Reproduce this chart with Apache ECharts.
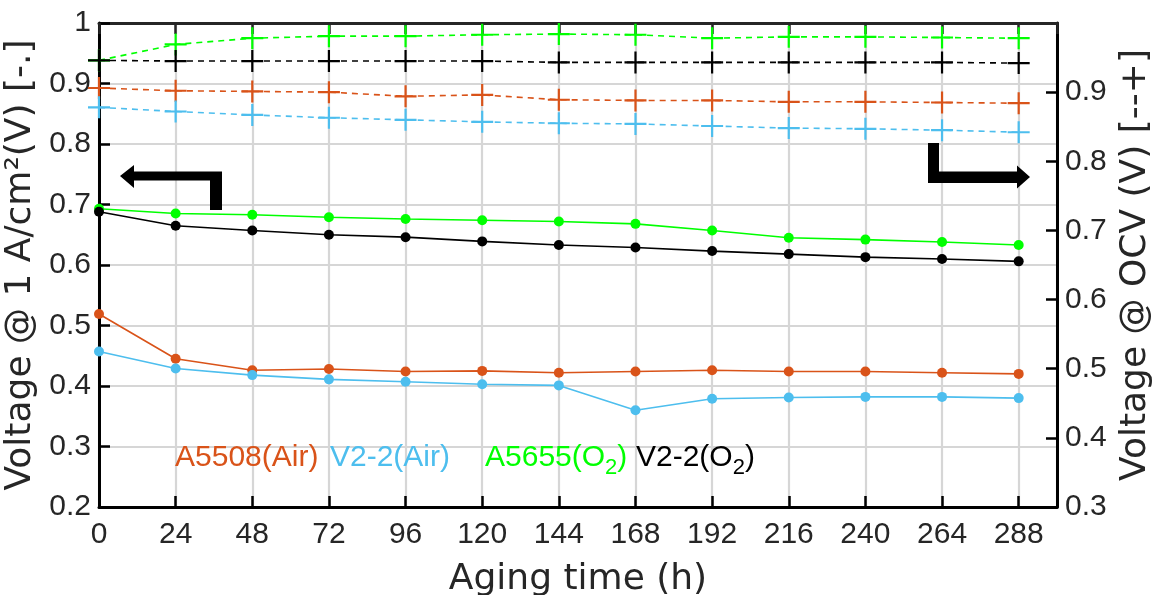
<!DOCTYPE html>
<html>
<head>
<meta charset="utf-8">
<script src="https://cdn.jsdelivr.net/npm/echarts@6/dist/echarts.min.js"></script>
<style>
html,body{margin:0;padding:0;background:#fff;overflow:hidden;}
#chart{width:1155px;height:595px;}
</style>
</head>
<body>
<div id="chart"></div>
<script>
// Aging time (h)
const hours = [0, 24, 48, 72, 96, 120, 144, 168, 192, 216, 240, 264, 288];

// Voltage @ 1 A/cm2 (left axis, solid with dots)
const a5508AirLoad = [0.519, 0.445, 0.426, 0.428, 0.424, 0.425, 0.422, 0.424, 0.426, 0.424, 0.424, 0.422, 0.420];
const v22AirLoad   = [0.457, 0.429, 0.418, 0.411, 0.407, 0.403, 0.401, 0.360, 0.379, 0.381, 0.382, 0.382, 0.380];
const a5655O2Load  = [0.693, 0.685, 0.683, 0.679, 0.676, 0.674, 0.672, 0.668, 0.657, 0.645, 0.642, 0.638, 0.633];
const v22O2Load    = [0.688, 0.665, 0.657, 0.650, 0.646, 0.639, 0.633, 0.629, 0.623, 0.618, 0.613, 0.610, 0.606];

// Voltage @ OCV (right axis, dashed with +)
const a5508AirOCV = [0.906, 0.902, 0.901, 0.900, 0.894, 0.896, 0.889, 0.888, 0.888, 0.886, 0.886, 0.885, 0.884];
const v22AirOCV   = [0.878, 0.872, 0.867, 0.863, 0.860, 0.857, 0.855, 0.854, 0.851, 0.848, 0.847, 0.845, 0.842];
const a5655O2OCV  = [0.946, 0.969, 0.978, 0.981, 0.981, 0.983, 0.984, 0.983, 0.978, 0.980, 0.980, 0.979, 0.978];
const v22O2OCV    = [0.946, 0.945, 0.945, 0.945, 0.945, 0.945, 0.943, 0.943, 0.943, 0.943, 0.943, 0.943, 0.942];

const seriesNames = ['A5508(Air)', 'V2-2(Air)', 'A5655(O2)', 'V2-2(O2)'];
const colors = ['#D95319', '#4DBEEE', '#00FF00', '#000000'];

const FONT = 'Liberation Sans, Arial, sans-serif';
const NAMEFONT = 'DejaVu Sans, sans-serif';
const TXT = '#262626';
const GRID = '#d6d6d6';
const PLUS = 'path://M-1,-10 L1,-10 L1,-1 L10,-1 L10,1 L1,1 L1,10 L-1,10 L-1,1 L-10,1 L-10,-1 L-1,-1 Z';

function pairs(ys) { return hours.map((h, i) => [h, ys[i]]); }

const loadData = [a5508AirLoad, v22AirLoad, a5655O2Load, v22O2Load];
const ocvData = [a5508AirOCV, v22AirOCV, a5655O2OCV, v22O2OCV];

const series = [];
ocvData.forEach((d, i) => {
  series.push({
    name: seriesNames[i] + ' OCV', type: 'line', xAxisIndex: 0, yAxisIndex: 1,
    data: pairs(d), symbol: PLUS, symbolSize: 22, showAllSymbol: true,
    lineStyle: { color: colors[i], width: 1.6, type: [6, 5] },
    itemStyle: { color: colors[i] }, animation: false, z: 3
  });
});
loadData.forEach((d, i) => {
  series.push({
    name: seriesNames[i], type: 'line', xAxisIndex: 0, yAxisIndex: 0,
    data: pairs(d), symbol: 'circle', symbolSize: 10, showAllSymbol: true,
    lineStyle: { color: colors[i], width: 1.6 },
    itemStyle: { color: colors[i] }, animation: false, z: 3
  });
});

const legendPos = [175, 330, 485, 636];
const legendTexts = legendPos.map((x, i) => {
  const isO2 = i >= 2;
  const base = isO2 ? seriesNames[i].replace('2)', '') : seriesNames[i];
  return {
    type: 'text', left: x, top: 443, z: 10,
    style: {
      text: isO2 ? '{m|' + base + '}{s|2}{m|)}' : '{m|' + base + '}',
      rich: {
        m: { fill: colors[i], fontFamily: FONT, fontSize: 30 },
        s: { fill: colors[i], fontFamily: FONT, fontSize: 22, padding: [20, 0, 0, 0] }
      }
    }
  };
});

const chart = echarts.init(document.getElementById('chart'), null, { renderer: 'canvas' });
chart.setOption({
  backgroundColor: '#fff',
  animation: false,
  grid: { left: 99, right: 98, top: 23, bottom: 88, containLabel: false, outerBoundsMode: 'none' },
  xAxis: [{
    type: 'value', position: 'bottom', min: 0, max: 300, interval: 24,
    name: 'Aging time (h)', nameLocation: 'middle', nameGap: 55,
    nameTextStyle: { fontFamily: NAMEFONT, fontSize: 36, color: TXT },
    axisLine: { show: true, onZero: false, lineStyle: { color: '#000', width: 3 } },
    axisTick: { show: true, inside: true, length: 11, lineStyle: { color: '#000', width: 2.5 } },
    axisLabel: { fontFamily: FONT, fontSize: 30, color: TXT, margin: 13, showMaxLabel: false },
    splitLine: { show: true, lineStyle: { color: GRID, width: 2.2 } }
  }, {
    type: 'value', position: 'top', min: 0, max: 300, interval: 24,
    axisLine: { show: true, onZero: false, lineStyle: { color: '#262626', width: 3 } },
    axisTick: { show: true, inside: true, length: 11, lineStyle: { color: '#262626', width: 2.5 } },
    axisLabel: { show: false }, splitLine: { show: false }
  }],
  yAxis: [{
    type: 'value', position: 'left', min: 0.2, max: 1, interval: 0.1,
    name: 'Voltage @ 1 A/cm²(V) [-.]', nameLocation: 'middle', nameGap: 51, nameRotate: 90,
    nameTextStyle: { fontFamily: NAMEFONT, fontSize: 36, color: TXT },
    axisLine: { show: true, onZero: false, lineStyle: { color: '#000', width: 3 } },
    axisTick: { show: true, inside: true, length: 11, lineStyle: { color: '#000', width: 2.5 } },
    axisLabel: { fontFamily: FONT, fontSize: 30, color: TXT, margin: 8 },
    splitLine: { show: true, lineStyle: { color: GRID, width: 2.2 } }
  }, {
    type: 'value', position: 'right', min: 0.3, max: 1, interval: 0.1,
    name: 'Voltage @ OCV (V) [--+]', nameLocation: 'middle', nameGap: 61, nameRotate: 90,
    nameTextStyle: { fontFamily: NAMEFONT, fontSize: 36, color: TXT },
    axisLine: { show: true, onZero: false, lineStyle: { color: '#000', width: 3 } },
    axisTick: { show: true, inside: true, length: 11, lineStyle: { color: '#000', width: 2.5 } },
    axisLabel: { fontFamily: FONT, fontSize: 30, color: TXT, margin: 8, showMaxLabel: false },
    splitLine: { show: false }
  }],
  series: series,
  graphic: [
    // left-pointing arrow (left axis)
    { type: 'polygon', z: 10, shape: { points: [[120,176],[134,165],[134,171.5],[222,171.5],[222,210],[210,210],[210,180.5],[134,180.5],[134,188]] }, style: { fill: '#000' } },
    // right-pointing arrow (right axis)
    { type: 'polygon', z: 10, shape: { points: [[928,143],[939,143],[939,171.5],[1017,171.5],[1017,165.5],[1030,177],[1017,188.5],[1017,183],[928,183]] }, style: { fill: '#000' } }
  ].concat(legendTexts)
});
</script>
</body>
</html>
